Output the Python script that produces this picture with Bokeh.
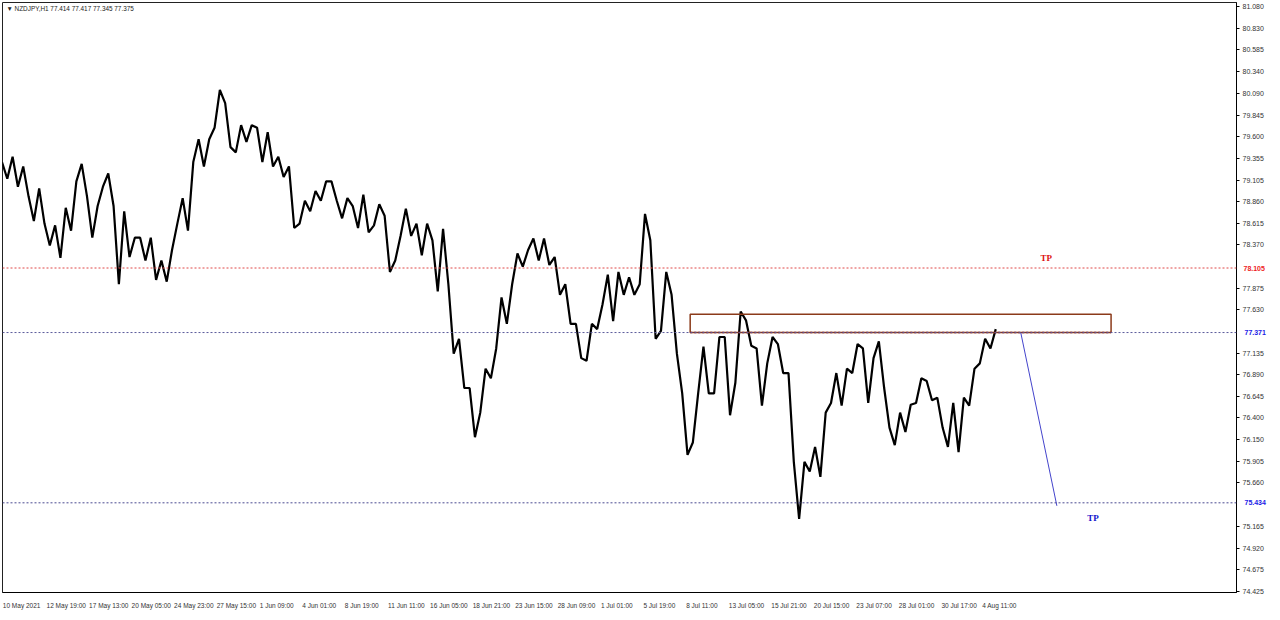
import numpy as np
from bokeh.plotting import figure
from bokeh.models import FixedTicker, Span, Label, PrintfTickFormatter, LinearAxis
from bokeh.core.properties import value
from bokeh.embed import file_html
from bokeh.resources import INLINE

# ---------------- data (NZDJPY H1, sampled every 10 bars) ----------------
bar_step = 10
high = [79.31, 79.37, 79.26, 79.01, 78.61, 78.59, 78.79, 79.29, 78.92, 79.03,
        79.18, 78.75, 78.45, 78.45, 78.45, 78.19, 78.61, 78.90, 79.57, 79.57,
        80.13, 79.98, 79.73, 79.73, 79.70, 79.65, 79.37, 79.26, 78.87, 78.98,
        79.09, 79.09, 78.90, 78.81, 78.94, 78.83, 78.70, 78.47, 78.78, 78.61,
        78.61, 78.55, 77.92, 77.30, 76.74, 76.96, 77.19, 77.77, 78.27, 78.31,
        78.44, 78.44, 78.23, 77.92, 77.47, 77.47, 77.69, 78.03, 78.06, 78.00,
        78.72, 78.42, 78.06, 77.80, 76.68, 76.68, 77.21, 77.32, 77.32, 77.61,
        77.51, 77.19, 77.32, 77.24, 76.91, 75.90, 76.07, 76.46, 76.91, 76.96,
        77.24, 77.19, 77.27, 76.74, 76.46, 76.55, 76.85, 76.82, 76.63, 76.57,
        76.63, 76.96, 77.30, 77.41]
low = [79.12, 79.03, 78.92, 78.64, 78.36, 78.22, 78.53, 79.09, 78.45, 78.81,
       78.81, 77.92, 78.23, 78.19, 77.97, 77.95, 78.31, 78.53, 79.31, 79.26,
       79.70, 79.48, 79.42, 79.54, 79.31, 79.26, 79.14, 78.56, 78.61, 78.75,
       78.87, 78.87, 78.67, 78.56, 78.51, 78.59, 78.06, 78.19, 78.47, 78.25,
       78.42, 77.84, 77.13, 76.74, 76.18, 76.46, 76.85, 77.47, 77.92, 78.12,
       78.19, 78.14, 77.80, 77.47, 77.08, 77.05, 77.41, 77.50, 77.80, 77.80,
       77.92, 77.30, 77.39, 77.13, 75.98, 76.12, 76.68, 76.68, 76.43, 76.80,
       77.22, 76.54, 77.02, 76.91, 75.90, 75.25, 75.79, 75.73, 76.57, 76.54,
       76.91, 76.57, 77.08, 76.29, 76.09, 76.24, 76.57, 76.60, 76.29, 76.07,
       76.01, 76.54, 77.02, 77.19]
close = [79.20, 79.09, 78.98, 78.87, 78.47, 78.36, 78.64, 79.23, 78.59, 78.98,
         78.92, 78.36, 78.36, 78.31, 78.08, 78.03, 78.47, 78.61, 79.48, 79.42,
         80.04, 79.65, 79.59, 79.65, 79.42, 79.37, 79.20, 78.70, 78.75, 78.92,
         78.98, 78.92, 78.79, 78.64, 78.61, 78.75, 78.19, 78.42, 78.61, 78.36,
         78.47, 78.36, 77.30, 76.91, 76.41, 76.80, 77.08, 77.58, 78.19, 78.23,
         78.31, 78.27, 77.92, 77.63, 77.24, 77.30, 77.58, 77.69, 77.92, 77.89,
         78.47, 77.51, 77.80, 77.30, 76.24, 76.46, 76.91, 77.02, 76.85, 77.36,
         77.36, 76.80, 77.24, 77.02, 76.12, 75.62, 75.96, 76.35, 76.74, 76.85,
         77.13, 76.74, 77.19, 76.46, 76.29, 76.46, 76.74, 76.68, 76.41, 76.35,
         76.46, 76.85, 77.22, 77.375]

time_labels = ["10 May 2021", "12 May 19:00", "17 May 13:00", "20 May 05:00",
               "24 May 23:00", "27 May 15:00", "1 Jun 09:00", "4 Jun 01:00",
               "8 Jun 19:00", "11 Jun 11:00", "16 Jun 05:00", "18 Jun 21:00",
               "23 Jun 15:00", "28 Jun 09:00", "1 Jul 01:00", "5 Jul 19:00",
               "8 Jul 11:00", "13 Jul 05:00", "15 Jul 21:00", "20 Jul 15:00",
               "23 Jul 07:00", "28 Jul 01:00", "30 Jul 17:00", "4 Aug 11:00"]
time_label_bars = [0, 40, 80, 120, 160, 200, 240, 280, 320, 360, 400, 440,
                   480, 520, 560, 600, 640, 680, 720, 760, 800, 840, 880, 920]

price_ticks = [81.080, 80.830, 80.585, 80.340, 80.090, 79.845, 79.600, 79.355,
               79.105, 78.860, 78.615, 78.370, 77.875, 77.630, 77.135, 76.890,
               76.645, 76.400, 76.150, 75.905, 75.660, 75.165, 74.920, 74.675,
               74.425]

title_text = "\u25bc NZDJPY,H1  77.414 77.417 77.345 77.375"
tp_upper = 78.105
entry_level = 77.371
tp_lower = 75.434
zone_top = 77.58
zone_bars = [645, 1041]
arrow_bars = [956, 990]
arrow_prices = [77.371, 75.40]
tp_text_bars = [980, 1024]
tp_text_prices = [78.22, 75.26]

# ---------------- figure ----------------
FRAME_W, FRAME_H = 1234, 590
p = figure(frame_width=FRAME_W, frame_height=FRAME_H,
           x_range=(-2, 1159), y_range=(74.414, 81.125),
           y_axis_location="right", toolbar_location=None,
           output_backend="svg",
           min_border_left=2, min_border_top=2, min_border_right=0,
           min_border_bottom=0)
p.background_fill_color = "white"
p.border_fill_color = "white"
p.outline_line_color = "#222222"
p.outline_line_width = 1
p.xgrid.visible = False
p.ygrid.visible = False

# right price axis
p.yaxis.ticker = FixedTicker(ticks=price_ticks)
p.yaxis.formatter = PrintfTickFormatter(format="%.3f")
p.yaxis.major_label_text_font = "Liberation Sans"
p.yaxis.major_label_text_font_size = "7px"
p.yaxis.major_label_text_color = "#333333"
p.yaxis.major_tick_in = 0
p.yaxis.major_tick_out = 3
p.yaxis.minor_tick_line_color = None
p.yaxis.major_label_standoff = 3
p.yaxis.axis_line_color = "black"

# highlighted price tags: extra axes whose labels are pulled back onto the price scale
axis_props = LinearAxis.properties()
for levels, col in [([tp_upper], "#ee1c1c"), ([entry_level, tp_lower], "#1a1ae6")]:
    ax = LinearAxis(ticker=FixedTicker(ticks=levels),
                    formatter=PrintfTickFormatter(format="%.3f"))
    ax.axis_line_color = None
    ax.major_tick_line_color = None
    ax.minor_tick_line_color = None
    ax.major_tick_in = 0
    ax.major_tick_out = 0
    ax.major_label_standoff = -23
    ax.major_label_text_font = "Liberation Sans"
    ax.major_label_text_font_size = "7px"
    if "major_label_background_fill_color" in axis_props:
        ax.major_label_background_fill_color = col
        ax.major_label_text_color = "white"
    else:
        ax.major_label_text_color = col
        ax.major_label_text_font_style = "bold"
    p.add_layout(ax, "right")

# bottom time axis (labels start at their bar, as in MT4)
label_pos = [b + int(round(len(t) * 1.5)) for b, t in zip(time_label_bars, time_labels)]
p.xaxis.ticker = FixedTicker(ticks=label_pos)
p.xaxis.major_label_overrides = {pos: t for pos, t in zip(label_pos, time_labels)}
p.xaxis.major_label_text_font = "Liberation Sans"
p.xaxis.major_label_text_font_size = "6.5px"
p.xaxis.major_label_text_color = "#333333"
p.xaxis.major_tick_line_color = None
p.xaxis.minor_tick_line_color = None
p.xaxis.major_label_standoff = 3
p.xaxis.axis_line_color = "black"

# price series: each 10-bar block drawn from its high to its low (ending near the close)
xs = np.arange(len(close)) * bar_step
path_x, path_y = [], []
for xk, h, l, c in zip(xs, high, low, close):
    first, second = (h, l) if (c - l) < (h - c) else (l, h)
    path_x += [xk - 2.5, xk + 2.5]
    path_y += [first, second]
p.line(x=path_x, y=path_y, line_color="black", line_width=2.2)

# horizontal levels
p.add_layout(Span(location=tp_upper, dimension="width", line_color="#e04848",
                  line_dash="2 2", line_width=1))
p.add_layout(Span(location=entry_level, dimension="width", line_color="#5a5a9a",
                  line_dash="2 2", line_width=1))
p.add_layout(Span(location=tp_lower, dimension="width", line_color="#4a4a90",
                  line_dash="2 2", line_width=1))

# supply zone rectangle
p.quad(left=[zone_bars[0]], right=[zone_bars[1]], bottom=[entry_level], top=[zone_top],
       fill_color=None, line_color="#8b3a1a", line_width=1.5)
p.line(x=zone_bars, y=[entry_level, entry_level], line_color="#8b2020",
       line_dash="2 2", line_width=1.5)

# projected move
p.line(x=arrow_bars, y=arrow_prices, line_color="#4444cc", line_width=1)

# TP texts
p.text(x=[tp_text_bars[0]], y=[tp_text_prices[0]], text=["TP"],
       text_font=value("Liberation Serif"), text_font_style="bold",
       text_font_size="9px", text_color="#dd1111",
       text_align="center", text_baseline="middle")
p.text(x=[tp_text_bars[1]], y=[tp_text_prices[1]], text=["TP"],
       text_font=value("Liberation Serif"), text_font_style="bold",
       text_font_size="9px", text_color="#1111cc",
       text_align="center", text_baseline="middle")

# symbol header
p.add_layout(Label(x=4, x_units="screen", y=81.06, y_units="data", text=title_text,
                   text_font="Liberation Sans", text_font_size="6.4px",
                   text_color="#222222", text_baseline="middle"))

open("out.html", "w").write(file_html(p, INLINE))
